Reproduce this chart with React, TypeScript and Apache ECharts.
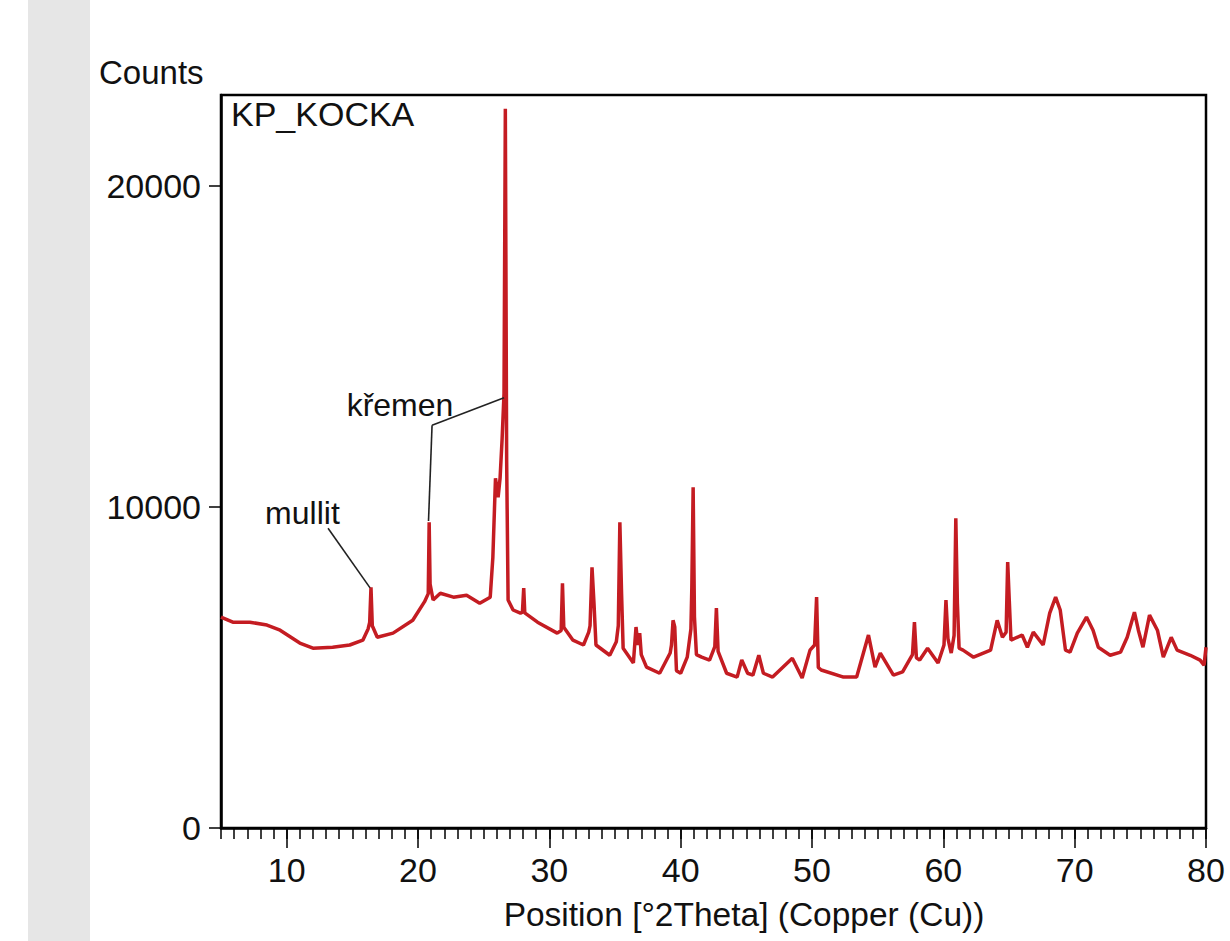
import React, { useEffect, useRef } from "react";
import * as echarts from "echarts";

// 2Theta positions (degrees) and counts
const twoTheta = [
  5.0, 5.9, 7.2, 8.5, 9.5, 11.0, 12.0, 13.5, 14.8, 15.8, 16.2, 16.32, 16.42, 16.52, 16.9, 18.1,
  19.6, 20.5, 20.78, 20.85, 20.92, 21.15, 21.7, 22.7, 23.7, 24.7, 25.5, 25.7, 25.9, 26.1, 26.25,
  26.4, 26.55, 26.65, 26.75, 26.86, 27.24, 27.8, 27.95, 28.05, 28.13, 29.1, 30.6, 30.9, 31.0,
  31.1, 31.8, 32.6, 33.0, 33.1, 33.25, 33.4, 33.55, 34.6, 35.1, 35.25, 35.37, 35.5, 35.62,
  36.4, 36.6, 36.75, 36.88, 37.0, 37.4, 38.4, 39.2, 39.3, 39.42, 39.55, 39.68, 40.0, 40.5,
  40.78, 40.85, 40.95, 41.05, 41.2, 41.6, 42.2, 42.6, 42.72, 42.85, 43.5, 44.3, 44.65, 45.1,
  45.5, 45.95, 46.3, 47.0, 47.4, 48.5, 49.25, 49.85, 50.2, 50.35, 50.48, 50.7, 52.4, 53.4,
  54.3, 54.8, 55.2, 56.2, 56.9, 57.65, 57.8, 57.95, 58.2, 58.8, 59.6, 60.05, 60.2, 60.35,
  60.6, 60.82, 60.95, 61.07, 61.2, 61.5, 62.3, 63.6, 64.1, 64.5, 64.78, 64.9, 65.02, 65.15,
  66.0, 66.4, 66.85, 67.6, 68.1, 68.55, 68.9, 69.3, 69.65, 70.2, 70.9, 71.4, 71.8, 72.7,
  73.5, 74.0, 74.55, 74.85, 75.2, 75.7, 76.3, 76.75, 77.35, 77.8, 78.8, 79.55, 79.85, 80.0,
];
const counts = [
  6570, 6410, 6410, 6320, 6160, 5760, 5600, 5630, 5700, 5850, 6200, 6400, 7500, 6300, 5940, 6070,
  6470, 7050, 7300, 9520, 7600, 7100, 7310, 7190, 7250, 7000, 7190, 8430, 10890, 10300, 10900,
  12080, 13540, 22400, 11450, 7100, 6790, 6690, 6720, 7470, 6700, 6410, 6070, 6150, 7620,
  6250, 5850, 5700, 6100, 6300, 8120, 7000, 5700, 5380, 5800, 6300, 9520, 7300, 5600,
  5140, 6260, 5700, 6070, 5400, 5010, 4820, 5450, 5700, 6470, 6260, 4900, 4820, 5320,
  6200, 7500, 10610, 6570, 5400, 5320, 5230, 5650, 6850, 5500, 4820, 4700, 5230, 4820,
  4760, 5380, 4820, 4700, 4860, 5290, 4670, 5540, 5700, 7190, 5000, 4920, 4700, 4700,
  6010, 5010, 5450, 4760, 4860, 5400, 6410, 5300, 5230, 5600, 5140, 5700, 7100, 5900,
  5450, 6000, 9650, 7000, 5600, 5540, 5320, 5540, 6470, 5940, 6100, 8280, 7100, 5850,
  6010, 5630, 6100, 5700, 6690, 7190, 6790, 5540, 5480, 6070, 6570, 6160, 5630, 5380,
  5480, 5940, 6720, 6160, 5630, 6630, 6160, 5320, 5940, 5540, 5380, 5230, 5070, 5630,
];

const xLabelValues = [10, 20, 30, 40, 50, 60, 70, 80];
const yLabelValues = [0, 10000, 20000];

// phase annotations: label text and label anchor (2Theta, counts)
const annotationNames = ["mullit", "křemen"];
const annotationAnchors = [
  [11.2, 9800],
  [18.63, 13165],
];
// leader lines (2Theta, counts) pairs
const leaderLines = [
  [[13.15, 9337], [16.35, 7480]],
  [[21.07, 12543], [20.8, 9560]],
  [[21.07, 12543], [26.55, 13400]],
];

const FONT = "'Liberation Sans', Arial, Helvetica, sans-serif";

export default function App() {
  const ref = useRef<HTMLDivElement>(null);

  useEffect(() => {
    if (!ref.current) return;
    const chart = echarts.init(ref.current, null, { renderer: "svg" });
    const data = twoTheta.map((t, i) => [t, counts[i]]);
    const grid = { left: 221, right: 24, top: 95, bottom: 113 };

    chart.setOption({
      animation: false,
      backgroundColor: "#ffffff",
      textStyle: { fontFamily: FONT },
      graphic: [
        { type: "rect", left: 28, top: 0, shape: { width: 62, height: 941 }, style: { fill: "#e6e6e6" }, z: -10 },
        { type: "text", left: 99, top: 56, style: { text: "Counts", font: `33px ${FONT}`, fill: "#111" } },
        { type: "text", left: 231, top: 97, style: { text: "KP_KOCKA", font: `34px ${FONT}`, fill: "#111" } },
        {
          type: "text",
          x: 744,
          y: 914,
          style: {
            text: "Position [°2Theta] (Copper (Cu))",
            font: `33.5px ${FONT}`,
            fill: "#111",
            align: "center",
            verticalAlign: "middle",
          },
        },
      ],
      grid: { ...grid, show: true, borderColor: "#000", borderWidth: 2.5, backgroundColor: "transparent" },
      xAxis: [
        {
          type: "value",
          min: 5,
          max: 80,
          interval: 1,
          axisLine: { show: true, lineStyle: { color: "#000", width: 2.5 } },
          axisTick: {
            show: true,
            inside: false,
            length: 20,
            customValues: xLabelValues,
            lineStyle: { color: "#000", width: 1.5 },
          },
          axisLabel: {
            show: true,
            customValues: xLabelValues,
            margin: 25,
            color: "#111",
            fontSize: 34,
            fontFamily: FONT,
          },
          splitLine: { show: false },
        },
        {
          type: "value",
          min: 5,
          max: 80,
          interval: 1,
          position: "bottom",
          axisLine: { show: false },
          axisTick: { show: true, inside: false, length: 11, lineStyle: { color: "#000", width: 1.5 } },
          axisLabel: { show: false },
          splitLine: { show: false },
        },
      ],
      yAxis: {
        type: "value",
        min: 0,
        max: 22830,
        interval: 10000,
        axisLine: { show: true, lineStyle: { color: "#000", width: 2.5 } },
        axisTick: {
          show: true,
          inside: false,
          length: 12,
          customValues: yLabelValues,
          lineStyle: { color: "#000", width: 1.5 },
        },
        axisLabel: {
          show: true,
          customValues: yLabelValues,
          margin: 20,
          color: "#111",
          fontSize: 34,
          fontFamily: FONT,
          formatter: (v: number) => (v % 10000 === 0 ? String(v) : ""),
        },
        splitLine: { show: false },
      },
      series: [
        {
          type: "line",
          name: "KP_KOCKA",
          xAxisIndex: 0,
          data,
          showSymbol: false,
          symbol: "none",
          lineStyle: { color: "#c41c22", width: 3.5 },
          silent: true,
          z: 3,
          markLine: {
            silent: true,
            symbol: ["none", "none"],
            label: { show: false },
            lineStyle: { color: "#222", width: 1.6, type: "solid", opacity: 1 },
            data: leaderLines.map(([a, b]) => [{ coord: a }, { coord: b }]),
          },
          markPoint: {
            silent: true,
            symbol: "circle",
            symbolSize: 0,
            itemStyle: { color: "#111", opacity: 1 },
            label: {
              show: true,
              position: "inside",
              formatter: (p: any) => p.name,
              color: "#111",
              opacity: 1,
              fontSize: 32,
              fontFamily: FONT,
            },
            data: annotationAnchors.map((p, i) => ({ coord: p, name: annotationNames[i] })),
          },
        },
      ],
    });

    return () => chart.dispose();
  }, []);

  return (
    <div
      ref={ref}
      style={{ position: "fixed", left: 0, top: 0, width: 1230, height: 941, background: "#fff" }}
    />
  );
}
